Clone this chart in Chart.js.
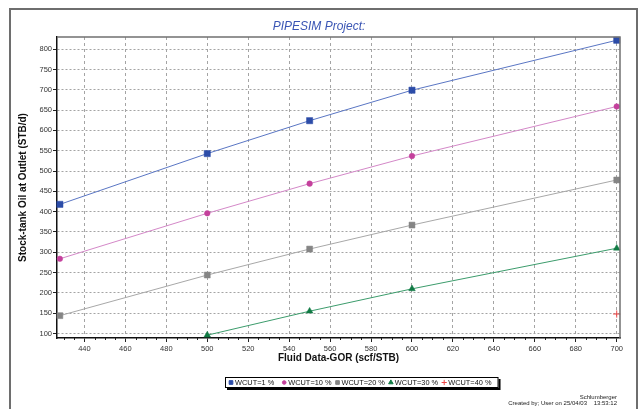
<!DOCTYPE html>
<html>
<head>
<meta charset="utf-8">
<title>PIPESIM Project</title>
<script src="https://cdn.jsdelivr.net/npm/chart.js@4.4.1/dist/chart.umd.min.js"></script>
<style>
  html, body { margin: 0; padding: 0; background: #ffffff; }
  #wrap { width: 642px; height: 409px; position: relative; }
  canvas { display: block; }
</style>
</head>
<body>
<div id="wrap"><canvas id="chart" width="642" height="409"></canvas></div>
<script>
// Gas/oil ratio sensitivity values (scf/STB)
const gorValues = [428, 500, 550, 600, 700];
const gorWcut30 = [500, 550, 600, 700];
const gorWcut40 = [700];

// Stock-tank oil at outlet (STB/d) for each water cut
const oilWcut1 = [418, 543, 624, 699, 822];
const oilWcut10 = [284, 396, 469, 537, 659];
const oilWcut20 = [144, 244, 308, 367, 478];
const oilWcut30 = [96, 155, 210, 310];
const oilWcut40 = [148];

const seriesLabels = ['WCUT=1 %', 'WCUT=10 %', 'WCUT=20 %', 'WCUT=30 %', 'WCUT=40 %'];

const xTicks = [440, 460, 480, 500, 520, 540, 560, 580, 600, 620, 640, 660, 680, 700];
const yTicks = [100, 150, 200, 250, 300, 350, 400, 450, 500, 550, 600, 650, 700, 750, 800];

const titleText = 'PIPESIM Project:';
const xTitle = 'Fluid Data-GOR (scf/STB)';
const yTitle = 'Stock-tank Oil at Outlet (STB/d)';
const footerLines = ['Schlumberger', 'Created by; User on 25/04/03    13:53:12'];

const pairs = (xs, ys) => xs.map((x, i) => ({ x: x, y: ys[i] }));

const FONT = "Arial, 'Liberation Sans', sans-serif";

const datasets = [
  { label: seriesLabels[0], data: pairs(gorValues, oilWcut1),
    borderColor: '#5a76c4', backgroundColor: '#2c4ca8', pointStyle: 'rect', pointRadius: 4.4 },
  { label: seriesLabels[1], data: pairs(gorValues, oilWcut10),
    borderColor: '#d488c8', backgroundColor: '#c4409c', pointStyle: 'circle', pointRadius: 2.8 },
  { label: seriesLabels[2], data: pairs(gorValues, oilWcut20),
    borderColor: '#a8a8a8', backgroundColor: '#858585', pointStyle: 'rect', pointRadius: 4.2 },
  { label: seriesLabels[3], data: pairs(gorWcut30, oilWcut30),
    borderColor: '#3c9c6c', backgroundColor: '#117a44', pointStyle: 'triangle', pointRadius: 3.8 },
  { label: seriesLabels[4], data: pairs(gorWcut40, oilWcut40),
    borderColor: '#ee4848', backgroundColor: '#ee4848', pointStyle: 'cross', pointRadius: 3.6 }
].map(d => Object.assign(d, {
  showLine: true,
  borderWidth: 1,
  pointBorderColor: d.backgroundColor,
  pointBackgroundColor: d.backgroundColor,
  pointBorderWidth: d.pointStyle === 'cross' ? 1 : 0.5,
  pointHoverRadius: d.pointRadius,
  clip: false
}));

// Extra decorations: frame, heading, plot border, minor ticks, legend box, footer
const decorations = {
  id: 'decorations',
  beforeDraw(chart) {
    const ctx = chart.ctx;
    ctx.save();
    ctx.fillStyle = '#ffffff';
    ctx.fillRect(0, 0, chart.width, chart.height);
    ctx.restore();
  },
  afterDraw(chart) {
    const ctx = chart.ctx;
    const area = chart.chartArea;
    const xs = chart.scales.x;
    ctx.save();

    // outer frame
    ctx.strokeStyle = '#6e6e6e';
    ctx.lineWidth = 2;
    ctx.strokeRect(10, 9, 627, 410);

    // plot border (top and right)
    ctx.strokeStyle = '#707070';
    ctx.lineWidth = 1.5;
    ctx.beginPath();
    ctx.moveTo(area.left, area.top);
    ctx.lineTo(area.right, area.top);
    ctx.lineTo(area.right, area.bottom);
    ctx.stroke();

    // minor ticks along the x axis
    ctx.strokeStyle = '#222';
    ctx.lineWidth = 1;
    ctx.beginPath();
    for (let v = Math.ceil(xs.min / 5) * 5; v <= xs.max; v += 5) {
      if (v % 20 === 0) continue;
      const px = Math.round(xs.getPixelForValue(v)) + 0.5;
      ctx.moveTo(px, area.bottom);
      ctx.lineTo(px, area.bottom + 2);
    }
    ctx.stroke();

    // heading
    ctx.fillStyle = '#3a55b4';
    ctx.font = 'italic 12px ' + FONT;
    ctx.textAlign = 'center';
    ctx.textBaseline = 'middle';
    ctx.fillText(titleText, 319, 27);

    // legend box
    ctx.font = '7.4px ' + FONT;
    ctx.textBaseline = 'middle';
    ctx.textAlign = 'left';
    const boxLeft = 225, boxTop = 377, boxH = 11;
    let cursor = boxLeft + 6;
    const items = chart.data.datasets.map((ds, i) => {
      const w = ctx.measureText(ds.label).width;
      const item = { ds: ds, markX: cursor, textX: cursor + 4, w: w };
      cursor = cursor + 4 + w + (i === 0 ? 10 : 6);
      return item;
    });
    const boxRight = cursor + 1;
    ctx.fillStyle = '#000';
    ctx.fillRect(boxLeft + 2, boxTop + 2, boxRight - boxLeft, boxH);
    ctx.fillStyle = '#fff';
    ctx.fillRect(boxLeft, boxTop, boxRight - boxLeft, boxH);
    ctx.strokeStyle = '#000';
    ctx.lineWidth = 1;
    ctx.strokeRect(boxLeft + 0.5, boxTop + 0.5, boxRight - boxLeft - 1, boxH - 1);
    const cy = boxTop + boxH / 2;
    items.forEach(it => {
      ctx.fillStyle = it.ds.backgroundColor;
      ctx.strokeStyle = it.ds.backgroundColor;
      ctx.lineWidth = 1;
      Chart.helpers.drawPoint(ctx, {
        pointStyle: it.ds.pointStyle,
        radius: it.ds.pointStyle === 'circle' ? 1.8 : 2.6,
        rotation: 0,
        borderWidth: 1
      }, it.markX, cy);
      ctx.fillStyle = '#111';
      ctx.fillText(it.ds.label, it.textX, cy + 0.5);
    });

    // footer
    ctx.fillStyle = '#222';
    ctx.font = '6px ' + FONT;
    ctx.textAlign = 'right';
    ctx.fillText(footerLines[0], 617, 397);
    ctx.fillText(footerLines[1], 617, 403);

    ctx.restore();
  }
};

new Chart(document.getElementById('chart'), {
  type: 'scatter',
  data: { datasets: datasets },
  plugins: [decorations],
  options: {
    responsive: false,
    devicePixelRatio: 1,
    animation: false,
    layout: { padding: { top: 37, right: 22, left: 0, bottom: 0 } },
    plugins: {
      legend: { display: false },
      title: { display: false },
      tooltip: { enabled: false }
    },
    scales: {
      x: {
        type: 'linear',
        min: 426.6,
        max: 701.6,
        afterFit(scale) { scale.height = 71; },
        afterBuildTicks(scale) { scale.ticks = xTicks.map(v => ({ value: v })); },
        ticks: {
          color: '#333',
          font: { family: FONT, size: 7.5 },
          padding: 2,
          maxRotation: 0,
          autoSkip: false
        },
        grid: {
          color: '#a4a4a4',
          lineWidth: 1,
          tickLength: 4,
          tickColor: '#222',
          tickBorderDash: []
        },
        border: { display: true, color: '#111', width: 1.5, dash: [3, 3] },
        title: {
          display: true,
          text: xTitle,
          color: '#111',
          font: { family: FONT, size: 10, weight: 'bold' },
          padding: { top: 0, bottom: 45 }
        }
      },
      y: {
        type: 'linear',
        min: 89,
        max: 830,
        afterFit(scale) { scale.width = 57; },
        afterBuildTicks(scale) { scale.ticks = yTicks.map(v => ({ value: v })); },
        ticks: {
          color: '#333',
          font: { family: FONT, size: 7.5 },
          padding: 1,
          autoSkip: false
        },
        grid: {
          color: '#a4a4a4',
          lineWidth: 1,
          tickLength: 4,
          tickColor: '#222',
          tickBorderDash: []
        },
        border: { display: true, color: '#111', width: 1.5, dash: [2, 2] },
        title: {
          display: true,
          text: yTitle,
          color: '#111',
          font: { family: FONT, size: 10, weight: 'bold' },
          padding: { top: 17, bottom: 0 }
        }
      }
    }
  }
});
</script>
</body>
</html>
